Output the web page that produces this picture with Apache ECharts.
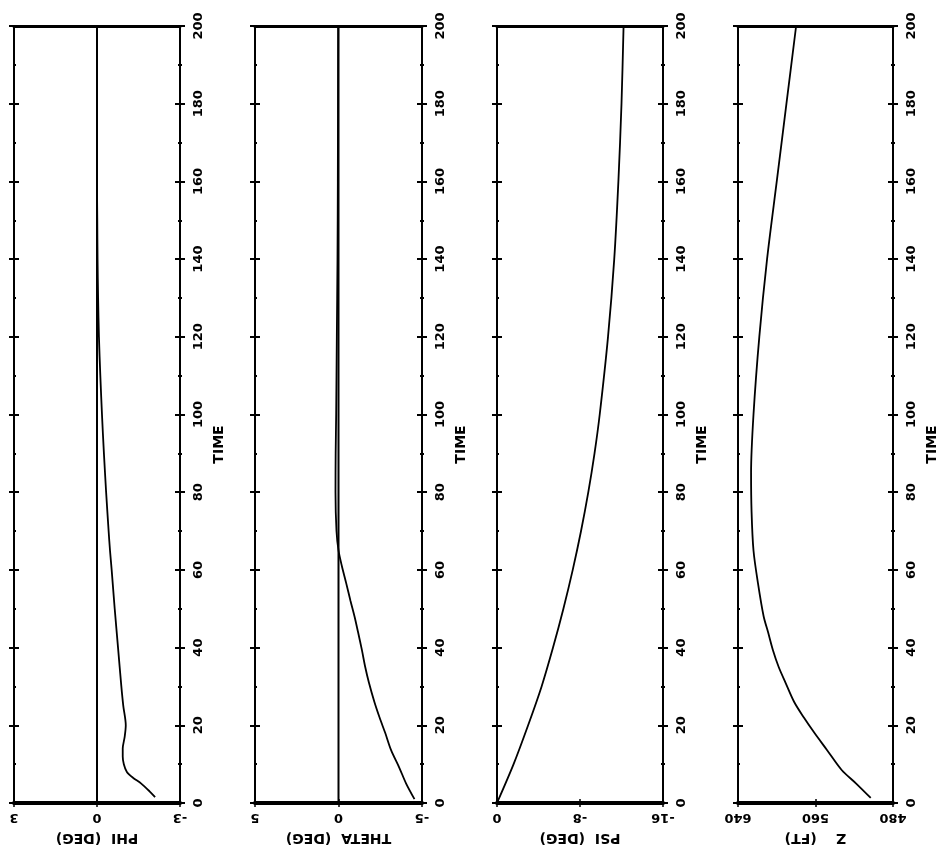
<!DOCTYPE html>
<html>
<head>
<meta charset="utf-8">
<script src="https://cdn.jsdelivr.net/npm/echarts@6/dist/echarts.min.js"></script>
<style>
html,body{margin:0;padding:0;background:#fff;}
#chart{width:940px;height:853px;}
</style>
</head>
<body>
<div id="chart"></div>
<script>
// time samples + values
var phiTime = [1.5, 3, 5, 6.5, 8, 10, 12, 14, 17, 20, 25, 30, 40, 50, 60, 65, 70, 80, 90, 100, 110, 120, 130, 140, 150, 160, 200];
var phiVal  = [-2.1, -1.9, -1.6, -1.3, -1.08, -0.97, -0.93, -0.93, -1.0, -1.04, -0.95, -0.88, -0.76, -0.64, -0.53, -0.47, -0.42, -0.33, -0.25, -0.18, -0.12, -0.07, -0.04, -0.02, -0.01, 0, 0];

var thetaTime = [1, 5, 9, 13.6, 18, 22, 26, 31, 35, 39.4, 44, 48, 52, 56.6, 61, 65, 70, 80, 90, 100, 120, 140, 160, 200];
var thetaVal  = [-4.55, -4.05, -3.65, -3.15, -2.8, -2.46, -2.15, -1.82, -1.6, -1.4, -1.17, -0.96, -0.72, -0.46, -0.2, 0, 0.12, 0.18, 0.17, 0.14, 0.1, 0.06, 0.04, 0.02];

var psiTime = [0, 10, 20, 30, 40, 50, 60, 70, 80, 90, 100, 120, 140, 160, 180, 200];
var psiVal  = [0, -1.6, -3.0, -4.3, -5.4, -6.4, -7.3, -8.1, -8.8, -9.4, -9.9, -10.7, -11.3, -11.7, -12.0, -12.2];

var zTime = [1.3, 5, 8.5, 13.6, 18, 22, 26, 31, 35, 39.4, 44, 48, 56.6, 65, 75, 85, 100, 120, 140, 160, 180, 200];
var zVal  = [503, 518, 533, 548, 561, 572, 582, 591, 598, 604, 609, 613.5, 619.4, 624, 626, 626.5, 624, 618, 610, 600, 590, 580];

// panel setup: value axis min/max, tick step, axis name
var panels = [
    {name:'PHI  (DEG)',   min:-3,  max:3,   step:3,  zero:true,  t:phiTime,   v:phiVal,   left:14,  right:180},
    {name:'THETA  (DEG)', min:-5,  max:5,   step:5,  zero:true,  t:thetaTime, v:thetaVal, left:255, right:422},
    {name:'PSI  (DEG)',   min:-16, max:0,   step:8,  zero:false, t:psiTime,   v:psiVal,   left:497, right:663},
    {name:'Z    (FT)',    min:480, max:640, step:80, zero:false, t:zTime,     v:zVal,     left:738, right:899}
];

var FONT = 'DejaVu Sans';
var grids = [], xAxes = [], yAxes = [], series = [];

function pairs(t, v){
    var out = [];
    for (var i = 0; i < t.length; i++) out.push([v[i], t[i]]);
    return out;
}

panels.forEach(function(p, i){
    grids.push({left:p.left, width:p.right - p.left, top:26, bottom:50});
    var xi = xAxes.length;
    // bottom value axis (thick, upside-down labels)
    xAxes.push({
        type:'value', gridIndex:i, position:'bottom', min:p.min, max:p.max, interval:p.step, inverse:true,
        axisLine:{show:true, onZero:false, lineStyle:{color:'#000', width:4}},
        axisTick:{show:true, inside:true, length:4, lineStyle:{color:'#000', width:1.5}},
        axisLabel:{rotate:180, color:'#000', fontFamily:FONT, fontWeight:'bold', fontSize:13, margin:8},
        splitLine:{show:false},
        name:p.name, nameLocation:'middle', nameRotate:180, nameGap:28,
        nameTextStyle:{color:'#000', fontFamily:FONT, fontWeight:'bold', fontSize:14}
    });
    xAxes.push({
        type:'value', gridIndex:i, position:'bottom', min:p.min, max:p.max, interval:p.step, inverse:true,
        axisLine:{show:false}, axisTick:{show:true, length:4, lineStyle:{color:'#000', width:1.5}},
        axisLabel:{show:false}, splitLine:{show:false}
    });
    // top border
    xAxes.push({
        type:'value', gridIndex:i, position:'top', min:p.min, max:p.max, interval:p.step, inverse:true,
        axisLine:{show:true, onZero:false, lineStyle:{color:'#000', width:3}},
        axisTick:{show:false}, axisLabel:{show:false}, splitLine:{show:false}
    });
    var yi = yAxes.length;
    // right time axis with labels
    yAxes.push({
        type:'value', gridIndex:i, position:'right', min:0, max:200, interval:20,
        axisLine:{show:true, onZero:false, lineStyle:{color:'#000', width:2}},
        axisTick:{show:true, length:5, lineStyle:{color:'#000', width:2}},
        minorTick:{show:true, splitNumber:2, length:2, lineStyle:{color:'#000', width:2}},
        axisLabel:{rotate:90, color:'#000', fontFamily:FONT, fontWeight:'bold', fontSize:13, margin:12},
        splitLine:{show:false},
        name:'TIME', nameLocation:'middle', nameRotate:90, nameGap:32,
        nameTextStyle:{color:'#000', fontFamily:FONT, fontWeight:'bold', fontSize:14, padding:[0, 60, 0, 0]}
    });
    // tick stubs: right inside, left both sides
    [['right', true], ['left', true], ['left', false]].forEach(function(s){
        yAxes.push({
            type:'value', gridIndex:i, position:s[0], min:0, max:200, interval:20,
            axisLine:{show:true, onZero:false, lineStyle:{color:'#000', width:2}},
            axisTick:{show:true, inside:s[1], length:5, lineStyle:{color:'#000', width:2}},
            minorTick:{show:s[1], splitNumber:2, length:2, lineStyle:{color:'#000', width:2}},
            axisLabel:{show:false}, splitLine:{show:false}
        });
    });
    if (p.zero) {
        series.push({
            type:'line', xAxisIndex:xi, yAxisIndex:yi, data:[[0, 0], [0, 200]],
            symbol:'none', silent:true, lineStyle:{color:'#000', width:2}
        });
    }
    series.push({
        type:'line', xAxisIndex:xi, yAxisIndex:yi, data:pairs(p.t, p.v),
        symbol:'none', smooth:0.3, lineStyle:{color:'#000', width:1.8}
    });
});

var myChart = echarts.init(document.getElementById('chart'));
myChart.setOption({
    animation:false,
    backgroundColor:'#fff',
    grid:grids,
    xAxis:xAxes,
    yAxis:yAxes,
    series:series
});
</script>
</body>
</html>
